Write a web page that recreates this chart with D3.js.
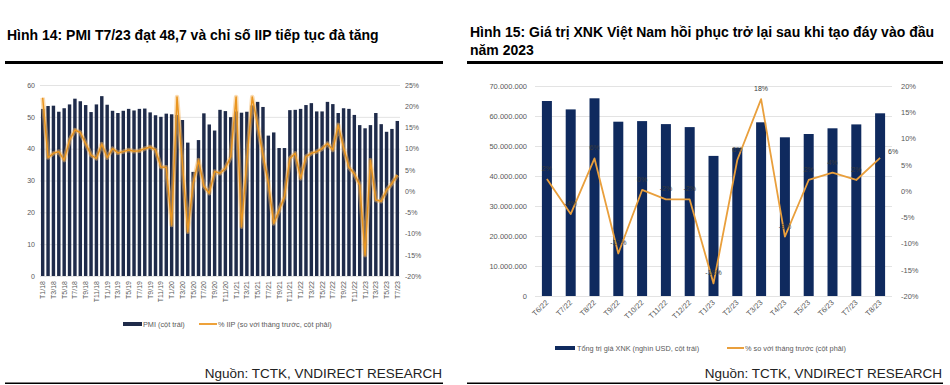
<!DOCTYPE html>
<html>
<head>
<meta charset="utf-8">
<script src="https://cdn.jsdelivr.net/npm/d3@7"></script>
<style>
  body { margin: 0; background: #fff; }
  text { font-family: Arial, "Liberation Sans", sans-serif; }
</style>
</head>
<body>
<svg id="chart"></svg>
<script>
// --- Hình 14 data ---
const pmiMonths = [
  "T1/18","T2/18","T3/18","T4/18","T5/18","T6/18","T7/18","T8/18","T9/18","T10/18","T11/18","T12/18",
  "T1/19","T2/19","T3/19","T4/19","T5/19","T6/19","T7/19","T8/19","T9/19","T10/19","T11/19","T12/19",
  "T1/20","T2/20","T3/20","T4/20","T5/20","T6/20","T7/20","T8/20","T9/20","T10/20","T11/20","T12/20",
  "T1/21","T2/21","T3/21","T4/21","T5/21","T6/21","T7/21","T8/21","T9/21","T10/21","T11/21","T12/21",
  "T1/22","T2/22","T3/22","T4/22","T5/22","T6/22","T7/22","T8/22","T9/22","T10/22","T11/22","T12/22",
  "T1/23","T2/23","T3/23","T4/23","T5/23","T6/23","T7/23"
];
const pmiValues = [
  52.5, 53.4, 53.5, 51.6, 52.7, 53.9, 55.7, 54.9, 53.7, 51.5, 53.9, 56.5,
  53.8, 51.9, 51.2, 51.9, 52.5, 52.0, 52.5, 52.6, 51.4, 50.5, 50.0, 51.0,
  50.8, 50.6, 49.0, 41.9, 32.7, 42.7, 51.1, 47.6, 45.7, 52.2, 51.8, 49.9,
  51.7, 51.3, 51.6, 53.6, 54.7, 53.1, 44.1, 45.1, 40.2, 40.2, 52.1, 52.2,
  52.5, 53.7, 54.3, 51.7, 51.7, 54.7, 54.0, 51.2, 52.7, 52.5, 50.6, 47.4,
  46.4, 47.4, 51.2, 47.7, 45.3, 46.2, 48.7
];
const iipValues = [
  22, 7.9, 8.9, 9.3, 7.3, 12, 14.4, 13.8, 11.2, 8.5, 7.7, 11.1,
  7.9, 10, 9, 9.3, 9.7, 9.4, 9.5, 10, 10.4, 9.7, 5.7, 5.6,
  -8, 22.2, 6.5, -9.6, 1.8, 7.3, 1.2, -0.5, 4.6, 4.2, 5.4, 8.1,
  22.2, -8.4, 7, 22.2, 15.5, 8.5, 1.8, -7.6, -4.5, -1.3, 7.7, 8.9,
  3, 8.1, 8.9, 9.3, 10, 11.2, 9.7, 15.6, 10.2, 5.6, 4.1, 1.4,
  -15.1, 7.3, -2.1, -2.4, 0.2, 1.8, 3.8
];
const pmiTicks = [0, 10, 20, 30, 40, 50, 60];
const iipTicks = [-20, -15, -10, -5, 0, 5, 10, 15, 20, 25];

// --- Hình 15 data ---
const xnkMonths = ["T6/22","T7/22","T8/22","T9/22","T10/22","T11/22","T12/22","T1/23","T2/23","T3/23","T4/23","T5/23","T6/23","T7/23","T8/23"];
const xnkValues = [65.0e6, 62.2e6, 65.9e6, 58.1e6, 58.3e6, 57.3e6, 56.3e6, 46.7e6, 49.4e6, 57.9e6, 52.9e6, 54.0e6, 55.9e6, 57.2e6, 60.9e6];
const xnkChange = [2.3, -4.4, 6.2, -11.9, 0.2, -1.6, -1.6, -17.6, 5.9, 17.5, -8.7, 2.1, 3.5, 2.1, 6.3];
const xnkTicks = [0, 10e6, 20e6, 30e6, 40e6, 50e6, 60e6, 70e6];
const changeTicks = [-20, -15, -10, -5, 0, 5, 10, 15, 20];

const w = 950, h = 385;
const grey = "#595959";
const svg = d3.select("#chart").attr("width", w).attr("height", h);

function frame(x0, x1) {
  svg.append("rect").attr("x", x0).attr("y", 61).attr("width", x1 - x0).attr("height", 3).attr("fill", "#000");
  svg.append("rect").attr("x", x0).attr("y", 382.5).attr("width", x1 - x0).attr("height", 1.5).attr("fill", "#000");
  svg.append("text").attr("x", x1 - 1).attr("y", 378).attr("text-anchor", "end")
    .attr("font-size", 13.5).attr("fill", "#222").text("Nguồn: TCTK, VNDIRECT RESEARCH");
}

function styleAxis(g, size) {
  g.select(".domain").remove();
  g.selectAll("text").attr("fill", grey).attr("font-size", size)
    .attr("font-family", "Arial, 'Liberation Sans', sans-serif");
}

// ================= Left: Hình 14 =================
frame(5, 443);
svg.append("text").attr("x", 7).attr("y", 40).attr("font-size", 14).attr("font-weight", "bold")
  .text("Hình 14: PMI T7/23 đạt 48,7 và chỉ số IIP tiếp tục đà tăng");

const xL = d3.scaleBand().domain(pmiMonths).range([40, 400]).paddingInner(0.36).paddingOuter(0.18);
const yL = d3.scaleLinear().domain([0, 60]).range([276, 85]);
const yLR = d3.scaleLinear().domain([-20, 25]).range([276, 85]);

svg.append("g").attr("transform", "translate(40,0)")
  .call(d3.axisLeft(yL).tickValues(pmiTicks).tickSize(-360).tickPadding(5))
  .call(g => {
    styleAxis(g, 7);
    g.selectAll("line").attr("stroke", "#e3e3e3");
  });

svg.append("g").attr("transform", "translate(400,0)")
  .call(d3.axisRight(yLR).tickValues(iipTicks).tickSize(0).tickPadding(5).tickFormat(d => d + "%"))
  .call(g => styleAxis(g, 7));

svg.append("g").selectAll("rect").data(pmiValues).enter().append("rect")
  .attr("x", (d, i) => xL(pmiMonths[i]))
  .attr("y", d => yL(d))
  .attr("width", xL.bandwidth())
  .attr("height", d => yL(0) - yL(d))
  .attr("fill", "#1f2b4a");

const lineL = d3.line().x((d, i) => xL(pmiMonths[i]) + xL.bandwidth() / 2).y(d => yLR(d));
svg.append("path").datum(iipValues).attr("d", lineL)
  .attr("fill", "none").attr("stroke", "#f5b865").attr("stroke-width", 4.5).attr("stroke-opacity", 0.5)
  .attr("stroke-linejoin", "round");
svg.append("path").datum(iipValues).attr("d", lineL)
  .attr("fill", "none").attr("stroke", "#e9951f").attr("stroke-width", 1.5).attr("stroke-linejoin", "round");

svg.append("g").selectAll("text").data(pmiMonths.filter((d, i) => i % 2 === 0)).enter().append("text")
  .attr("transform", d => `translate(${xL(d) + xL.bandwidth() / 2 + 2.5},281) rotate(-90)`)
  .attr("text-anchor", "end").attr("font-size", 7).attr("fill", grey).text(d => d);

const legL = svg.append("g");
legL.append("rect").attr("x", 123).attr("y", 322).attr("width", 19).attr("height", 4).attr("fill", "#1f2b4a");
legL.append("text").attr("x", 143).attr("y", 326.5).attr("font-size", 7.3).attr("fill", grey).text("PMI (cột trái)");
legL.append("line").attr("x1", 199).attr("x2", 217).attr("y1", 324).attr("y2", 324)
  .attr("stroke", "#eea23a").attr("stroke-width", 2);
legL.append("text").attr("x", 218).attr("y", 326.5).attr("font-size", 7.3).attr("fill", grey)
  .text("% IIP (so với tháng trước, cột phải)");

// ================= Right: Hình 15 =================
frame(467, 943);
svg.append("text").attr("x", 470).attr("y", 37).attr("font-size", 14).attr("font-weight", "bold")
  .text("Hình 15: Giá trị XNK Việt Nam hồi phục trở lại sau khi tạo đáy vào đầu");
svg.append("text").attr("x", 470).attr("y", 55).attr("font-size", 14).attr("font-weight", "bold")
  .text("năm 2023");

const vn = d3.formatLocale({ decimal: ",", thousands: ".", grouping: [3], currency: ["", ""] });
const xR = d3.scaleBand().domain(xnkMonths).range([535, 892]).paddingInner(0.58).paddingOuter(0.29);
const yR = d3.scaleLinear().domain([0, 70e6]).range([296, 86]);
const yRR = d3.scaleLinear().domain([-20, 20]).range([296, 86]);

svg.append("g").attr("transform", "translate(535,0)")
  .call(d3.axisLeft(yR).tickValues(xnkTicks).tickSize(-357).tickPadding(8).tickFormat(vn.format(",d")))
  .call(g => {
    styleAxis(g, 7.5);
    g.selectAll("line").attr("stroke", "#e3e3e3");
  });

svg.append("g").attr("transform", "translate(892,0)")
  .call(d3.axisRight(yRR).tickValues(changeTicks).tickSize(0).tickPadding(9).tickFormat(d => d + "%"))
  .call(g => styleAxis(g, 7.5));

svg.append("g").selectAll("rect").data(xnkValues).enter().append("rect")
  .attr("x", (d, i) => xR(xnkMonths[i]))
  .attr("y", d => yR(d))
  .attr("width", xR.bandwidth())
  .attr("height", d => yR(0) - yR(d))
  .attr("fill", "#0f2a5e");

const cxR = i => xR(xnkMonths[i]) + xR.bandwidth() / 2;
svg.append("path").datum(xnkChange)
  .attr("d", d3.line().x((d, i) => cxR(i)).y(d => yRR(d)))
  .attr("fill", "none").attr("stroke", "#e99f3c").attr("stroke-width", 1.8).attr("stroke-linejoin", "round");

svg.append("g").selectAll("text").data(xnkChange).enter().append("text")
  .attr("x", (d, i) => i === xnkChange.length - 1 ? cxR(i) + 8 : cxR(i))
  .attr("y", (d, i) => i === xnkChange.length - 1 ? yRR(d) - 4 : yRR(d) - 8)
  .attr("text-anchor", (d, i) => i === xnkChange.length - 1 ? "start" : "middle")
  .attr("font-size", 7).attr("fill", "#3a3a3a").text(d => Math.round(d) + "%");

svg.append("g").selectAll("text").data(xnkMonths).enter().append("text")
  .attr("transform", d => `translate(${xR(d) + xR.bandwidth() / 2 + 2},303) rotate(-45)`)
  .attr("text-anchor", "end").attr("font-size", 7.5).attr("fill", grey).text(d => d);

const legR = svg.append("g");
legR.append("rect").attr("x", 555).attr("y", 346).attr("width", 20).attr("height", 4).attr("fill", "#0f2a5e");
legR.append("text").attr("x", 577).attr("y", 350.5).attr("font-size", 7.3).attr("fill", grey)
  .text("Tổng trị giá XNK (nghìn USD, cột trái)");
legR.append("line").attr("x1", 727).attr("x2", 744).attr("y1", 348).attr("y2", 348)
  .attr("stroke", "#e99f3c").attr("stroke-width", 2);
legR.append("text").attr("x", 745).attr("y", 350.5).attr("font-size", 7.3).attr("fill", grey)
  .text("% so với tháng trước (cột phải)");
</script>
</body>
</html>
